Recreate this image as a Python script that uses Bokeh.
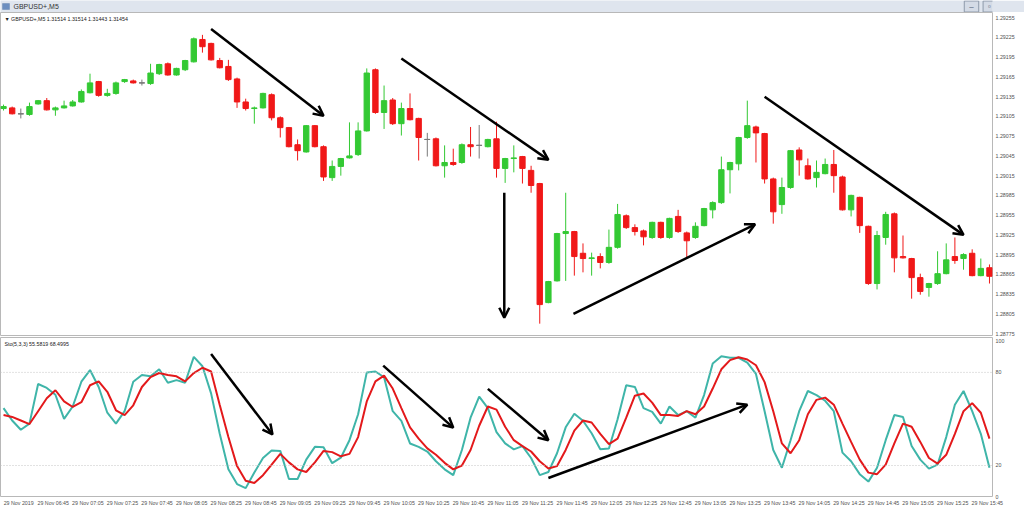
from bokeh.plotting import figure
from bokeh.layouts import column
from bokeh.models import (ColumnDataSource, Range1d, FixedTicker, Span, Label,
                          Arrow, OpenHead, PrintfTickFormatter, BoxAnnotation)
from bokeh.embed import file_html
from bokeh.resources import INLINE

# ---------------- data ----------------
window_title = "GBPUSD+,M5"
header_main = "\u25bc GBPUSD+,M5  1.31514 1.31514 1.31443 1.31454"
header_sto = "Sto(5,3,3) 55.5819 68.4995"

opens = [1.29117, 1.29118, 1.29109, 1.29108, 1.29124, 1.29129, 1.29115, 1.29118, 1.29121, 1.29127,
         1.29141, 1.29158, 1.29137, 1.29140, 1.29158, 1.29159, 1.29156, 1.29155, 1.29170, 1.29185,
         1.29168, 1.29176, 1.29188, 1.29222, 1.29216, 1.29190, 1.29181, 1.29162, 1.29127, 1.29117,
         1.29118, 1.29138, 1.29103, 1.29088, 1.29062, 1.29051, 1.29091, 1.29059, 1.29012, 1.29029,
         1.29042, 1.29047, 1.29083, 1.29176, 1.29111, 1.29130, 1.29094, 1.29117, 1.29102, 1.29070,
         1.29071, 1.29030, 1.29035, 1.29035, 1.29062, 1.29061, 1.29059, 1.29071, 1.29026, 1.29041,
         1.29044, 1.29023, 1.29003, 1.28822, 1.28855, 1.28927, 1.28930, 1.28897, 1.28889, 1.28892,
         1.28883, 1.28906, 1.28954, 1.28936, 1.28931, 1.28921, 1.28944, 1.28921, 1.28953, 1.28928,
         1.28921, 1.28939, 1.28963, 1.28974, 1.29024, 1.29033, 1.29073, 1.29089, 1.29079, 1.29010,
         1.28971, 1.28997, 1.29054, 1.29030, 1.29012, 1.29018, 1.29032, 1.29013, 1.28963, 1.28982,
         1.28938, 1.28851, 1.28921, 1.28957, 1.28892, 1.28889, 1.28860, 1.28845, 1.28851, 1.28866,
         1.28892, 1.28889, 1.28897, 1.28863, 1.28875]
highs = [1.29123, 1.29120, 1.29117, 1.29126, 1.29130, 1.29133, 1.29120, 1.29129, 1.29130, 1.29146,
         1.29170, 1.29159, 1.29147, 1.29158, 1.29162, 1.29161, 1.29161, 1.29185, 1.29185, 1.29187,
         1.29179, 1.29191, 1.29225, 1.29229, 1.29217, 1.29194, 1.29191, 1.29164, 1.29132, 1.29120,
         1.29141, 1.29140, 1.29105, 1.29089, 1.29070, 1.29092, 1.29092, 1.29061, 1.29038, 1.29042,
         1.29096, 1.29096, 1.29178, 1.29178, 1.29152, 1.29133, 1.29126, 1.29140, 1.29103, 1.29080,
         1.29073, 1.29061, 1.29056, 1.29064, 1.29089, 1.29092, 1.29071, 1.29097, 1.29042, 1.29061,
         1.29045, 1.29030, 1.29004, 1.28855, 1.28928, 1.28989, 1.28931, 1.28912, 1.28898, 1.28897,
         1.28933, 1.28972, 1.28956, 1.28941, 1.28933, 1.28945, 1.28945, 1.28951, 1.28963, 1.28930,
         1.28944, 1.28966, 1.28976, 1.29044, 1.29036, 1.29074, 1.29129, 1.29091, 1.29080, 1.29012,
         1.29012, 1.29054, 1.29058, 1.29041, 1.29038, 1.29041, 1.29054, 1.29015, 1.28986, 1.28983,
         1.28939, 1.28931, 1.28960, 1.28959, 1.28924, 1.28890, 1.28866, 1.28852, 1.28900, 1.28912,
         1.28921, 1.28897, 1.28903, 1.28889, 1.28880]
lows = [1.29114, 1.29108, 1.29102, 1.29106, 1.29123, 1.29114, 1.29106, 1.29117, 1.29120, 1.29126,
        1.29140, 1.29135, 1.29135, 1.29138, 1.29156, 1.29155, 1.29152, 1.29153, 1.29168, 1.29167,
        1.29167, 1.29174, 1.29187, 1.29202, 1.29190, 1.29178, 1.29159, 1.29118, 1.29114, 1.29094,
        1.29117, 1.29099, 1.29073, 1.29058, 1.29038, 1.29050, 1.29058, 1.29007, 1.29007, 1.29015,
        1.29041, 1.29045, 1.29082, 1.29109, 1.29086, 1.29092, 1.29076, 1.29099, 1.29038, 1.29044,
        1.29029, 1.29012, 1.29030, 1.29033, 1.29044, 1.29041, 1.29058, 1.29012, 1.29004, 1.29020,
        1.29003, 1.28989, 1.28790, 1.28821, 1.28854, 1.28855, 1.28863, 1.28868, 1.28863, 1.28874,
        1.28881, 1.28904, 1.28934, 1.28924, 1.28909, 1.28919, 1.28919, 1.28919, 1.28928, 1.28889,
        1.28919, 1.28938, 1.28950, 1.28972, 1.28988, 1.29023, 1.29071, 1.29035, 1.29003, 1.28942,
        1.28957, 1.28995, 1.29015, 1.29009, 1.28997, 1.29017, 1.28989, 1.28962, 1.28953, 1.28928,
        1.28849, 1.28842, 1.28910, 1.28868, 1.28889, 1.28828, 1.28834, 1.28831, 1.28849, 1.28865,
        1.28881, 1.28872, 1.28862, 1.28862, 1.28851]
closes = [1.29120, 1.29109, 1.29109, 1.29120, 1.29129, 1.29115, 1.29118, 1.29121, 1.29127, 1.29143,
          1.29156, 1.29137, 1.29140, 1.29156, 1.29161, 1.29156, 1.29156, 1.29171, 1.29184, 1.29168,
          1.29178, 1.29190, 1.29223, 1.29211, 1.29191, 1.29179, 1.29161, 1.29127, 1.29117, 1.29118,
          1.29140, 1.29103, 1.29088, 1.29059, 1.29053, 1.29091, 1.29059, 1.29013, 1.29029, 1.29041,
          1.29045, 1.29083, 1.29171, 1.29111, 1.29129, 1.29094, 1.29117, 1.29100, 1.29073, 1.29070,
          1.29030, 1.29035, 1.29032, 1.29062, 1.29059, 1.29061, 1.29070, 1.29026, 1.29041, 1.29042,
          1.29026, 1.29000, 1.28819, 1.28854, 1.28927, 1.28930, 1.28892, 1.28889, 1.28890, 1.28883,
          1.28906, 1.28956, 1.28936, 1.28930, 1.28922, 1.28944, 1.28921, 1.28950, 1.28930, 1.28916,
          1.28938, 1.28965, 1.28974, 1.29024, 1.29035, 1.29073, 1.29091, 1.29080, 1.29010, 1.28960,
          1.28997, 1.29053, 1.29039, 1.29010, 1.29020, 1.29032, 1.29015, 1.28963, 1.28985, 1.28939,
          1.28851, 1.28924, 1.28956, 1.28890, 1.28890, 1.28860, 1.28839, 1.28851, 1.28866, 1.28887,
          1.28886, 1.28895, 1.28863, 1.28874, 1.28862]

stoch_main = [57, 49, 43, 47, 72.5, 70, 65.6, 50, 58, 74,
              81.5, 70.6, 54, 47, 55, 74, 78.3, 77.5, 82, 73.3,
              75, 73.3, 90, 84, 66.5, 40.4, 17.5, 8, 5.4, 15.4,
              24.8, 29.6, 29.4, 11.3, 11.3, 23.8, 32, 31.7, 21.5, 25,
              36.3, 53, 80, 80.6, 76.9, 55, 48.8, 34.2, 32, 29,
              22.7, 17.5, 13.75, 30, 50.8, 64.4, 57, 41.5, 34.2, 30.4,
              32.5, 24.8, 13.75, 15.8, 27.9, 44.6, 53.3, 48.8, 40.8, 30.4,
              31, 49.8, 71.7, 70.6, 57, 54.5, 47, 58, 52.5, 55,
              50.8, 65.4, 85.8, 90.4, 89.4, 89.4, 86.25, 79, 55, 30,
              18.5, 36.3, 55, 68, 65.4, 61.7, 55, 28.3, 22.7, 14.4,
              9.6, 18.5, 36.3, 52.5, 51.3, 32.5, 23.75, 18, 20.6, 38.3,
              59.2, 68, 55, 40.4, 18.5]
stoch_signal = [52.5, 51.3, 49, 46.7, 55, 63.3, 68.5, 61.3, 57.7, 60.8,
                71.7, 74.2, 67.5, 55.6, 52.5, 58.8, 70.6, 76.9, 79.6, 78.3,
                77.5, 74.2, 79.6, 83, 80.6, 59, 38.3, 19.6, 10.2, 8.75,
                13.75, 20.6, 27.5, 22, 17.5, 15.8, 22, 29.4, 28.6, 25.9,
                27.5, 38.3, 61.3, 74.2, 77.9, 69.6, 57, 44.6, 37.3, 31,
                26.9, 21.7, 17.5, 20, 30, 45.6, 58, 56, 45, 36.3,
                32.5, 29, 22.7, 18, 19.6, 30, 42.5, 49, 47.7, 40.4,
                33.75, 37.3, 50.8, 65, 66.4, 60.5, 52.5, 52.5, 51.9, 55,
                53, 58, 69.6, 82, 87.9, 89.8, 88.3, 84.6, 73.75, 55,
                34.2, 27.9, 36.3, 53, 62.3, 63.75, 59.2, 47, 35.2, 23.75,
                15.4, 14.4, 20.6, 34.2, 47, 45, 35.2, 24.8, 21.25, 26.9,
                40.4, 55, 60.2, 54, 37.3]

time_labels = ["29 Nov 2019", "29 Nov 06:45", "29 Nov 07:05", "29 Nov 07:25", "29 Nov 07:45",
               "29 Nov 08:05", "29 Nov 08:25", "29 Nov 08:45", "29 Nov 09:05", "29 Nov 09:25",
               "29 Nov 09:45", "29 Nov 10:05", "29 Nov 10:25", "29 Nov 10:45", "29 Nov 11:05",
               "29 Nov 11:25", "29 Nov 11:45", "29 Nov 12:05", "29 Nov 12:25", "29 Nov 12:45",
               "29 Nov 13:05", "29 Nov 13:25", "29 Nov 13:45", "29 Nov 14:05", "29 Nov 14:25",
               "29 Nov 14:45", "29 Nov 15:05", "29 Nov 15:25", "29 Nov 15:45"]
label_every = 4  # bars between time labels

price_ticks = [1.29255, 1.29225, 1.29195, 1.29165, 1.29135, 1.29105, 1.29075, 1.29045, 1.29015,
               1.28985, 1.28955, 1.28925, 1.28895, 1.28865, 1.28835, 1.28805, 1.28775]
sto_ticks = [0, 20, 80, 100]
sto_levels = [20, 80]

# hand-drawn trend arrows (bar index, price) and (bar index, stochastic value)
price_arrow_x0 = [24.0, 46.0, 57.9, 65.9, 88.0]
price_arrow_y0 = [1.29238, 1.29193, 1.28989, 1.28805, 1.29135]
price_arrow_x1 = [37.0, 63.0, 57.9, 86.9, 111.0]
price_arrow_y1 = [1.29106, 1.29039, 1.28799, 1.28941, 1.28925]
sto_arrow_x0 = [24.0, 43.9, 56.0, 63.0]
sto_arrow_y0 = [91.9, 84.4, 69.4, 11.9]
sto_arrow_x1 = [31.1, 52.0, 63.0, 86.0]
sto_arrow_y1 = [40.0, 44.4, 36.25, 59.2]

# ---------------- styling ----------------
BULL = "#33c933"
BEAR = "#f01818"
DOJI = "#7a7a7a"
K_COL = "#3fb5a9"
D_COL = "#e3191b"
FONT = "Liberation Sans"
FS = "5.3px"
TXT = "#505050"
TOTAL_W = 1024
RIGHT_W = 32
FRAME_W = TOTAL_W - RIGHT_W
LABEL_SHIFT = 1.75   # time labels start at their bar (MT4 style), centre ~1.75 bars right

n = len(opens)
idx = list(range(n))
colors = [BULL if c > o else (BEAR if c < o else DOJI) for o, c in zip(opens, closes)]
tops = [max(o, c) for o, c in zip(opens, closes)]
bots = [min(o, c) for o, c in zip(opens, closes)]
src = ColumnDataSource(dict(x=idx, o=opens, h=highs, l=lows, c=closes,
                            top=tops, bot=bots, color=colors))
doji_i = [i for i in idx if opens[i] == closes[i]]
dsrc = ColumnDataSource(dict(x0=[i - 0.33 for i in doji_i], x1=[i + 0.33 for i in doji_i],
                             y=[opens[i] for i in doji_i]))

xr = Range1d(-0.35, 114.35)

# ---------------- title bar ----------------
tb = figure(width=TOTAL_W, height=12, x_range=Range1d(0, FRAME_W), y_range=Range1d(0, 12),
            toolbar_location=None, output_backend="svg", x_axis_location=None,
            y_axis_location=None, min_border=0, min_border_right=RIGHT_W)
tb.grid.visible = False
tb.outline_line_color = None
tb.background_fill_color = "#dfe5ee"
tb.border_fill_color = "#dfe5ee"
tb.add_layout(BoxAnnotation(left=2, right=9, bottom=3, top=9, fill_color="#6d8fc0",
                            fill_alpha=1, line_color="#4a6a9a"))
tb.add_layout(Label(x=13, y=6, text=window_title, text_font=FONT, text_font_size="7px",
                    text_baseline="middle", text_color="#333333"))
for cx, glyph, fc, tc in [(971, "\u2013", "#d4dbe6", "#44536a"),
                          (989, "\u25ab", "#d4dbe6", "#44536a"),
                          (1007, "\u00d7", "#d9826e", "#ffffff")]:
    tb.add_layout(Label(x=cx, y=6, text=glyph, text_font=FONT, text_font_size="8px",
                        text_align="center", text_baseline="middle", text_color=tc,
                        background_fill_color=fc, background_fill_alpha=1,
                        border_line_color="#8d99aa", padding=(5, 1)))

# ---------------- price panel ----------------
p1 = figure(width=TOTAL_W, height=324, x_range=xr,
            y_range=Range1d(1.28772, 1.29263), toolbar_location=None,
            output_backend="svg", x_axis_location=None, y_axis_location="right",
            min_border_left=0, min_border_top=0, min_border_bottom=1, min_border_right=RIGHT_W)
p1.grid.visible = False
p1.outline_line_color = "#b8b8b8"
p1.yaxis.ticker = FixedTicker(ticks=price_ticks)
p1.yaxis.formatter = PrintfTickFormatter(format="%.5f")

p1.segment(x0="x", y0="l", x1="x", y1="h", line_color="color", line_width=1, source=src)
p1.vbar(x="x", width=0.62, top="top", bottom="bot", fill_color="color",
        line_color="color", line_width=1, source=src)
p1.segment(x0="x0", y0="y", x1="x1", y1="y", line_color=DOJI, line_width=1, source=dsrc)

p1.add_layout(Label(x=0.1, y=1.29263, text=header_main, text_font=FONT, text_font_size=FS,
                    text_baseline="top", text_color="#202020", y_offset=-3))
for a, b, c, d in zip(price_arrow_x0, price_arrow_y0, price_arrow_x1, price_arrow_y1):
    p1.add_layout(Arrow(x_start=a, y_start=b, x_end=c, y_end=d, line_width=2.5,
                        line_color="black",
                        end=OpenHead(size=10, line_width=2.5, line_color="black")))

# ---------------- stochastic panel ----------------
p2 = figure(width=TOTAL_W, height=174, x_range=xr, y_range=Range1d(0, 102.5),
            toolbar_location=None, output_backend="svg", y_axis_location="right",
            min_border_left=0, min_border_top=1, min_border_bottom=14, min_border_right=RIGHT_W)
p2.grid.visible = False
p2.outline_line_color = "#b8b8b8"
p2.yaxis.ticker = FixedTicker(ticks=sto_ticks)
for lv in sto_levels:
    p2.add_layout(Span(location=lv, dimension="width", line_color="#c4c4c4",
                       line_dash="1 2", line_width=1))
p2.line(idx, stoch_main, line_color=K_COL, line_width=2)
p2.line(idx, stoch_signal, line_color=D_COL, line_width=2)
p2.add_layout(Label(x=0.1, y=102.5, text=header_sto, text_font=FONT, text_font_size=FS,
                    text_baseline="top", text_color="#202020", y_offset=-3))
for a, b, c, d in zip(sto_arrow_x0, sto_arrow_y0, sto_arrow_x1, sto_arrow_y1):
    p2.add_layout(Arrow(x_start=a, y_start=b, x_end=c, y_end=d, line_width=2.5,
                        line_color="black",
                        end=OpenHead(size=10, line_width=2.5, line_color="black")))

tick_pos = [i * label_every + LABEL_SHIFT for i in range(len(time_labels))]
p2.xaxis.ticker = FixedTicker(ticks=tick_pos)
p2.xaxis.major_label_overrides = {t: s for t, s in zip(tick_pos, time_labels)}

for ax in [p1.yaxis[0], p2.yaxis[0], p2.xaxis[0]]:
    ax.major_label_text_font = FONT
    ax.major_label_text_font_size = FS
    ax.major_label_text_color = TXT
    ax.axis_line_color = None
    ax.major_tick_line_color = None
    ax.major_tick_out = 0
    ax.major_tick_in = 0
    ax.minor_tick_line_color = None
    ax.major_label_standoff = 3

layout = column(tb, p1, p2, spacing=0)
open("out.html", "w").write(file_html(layout, INLINE))
